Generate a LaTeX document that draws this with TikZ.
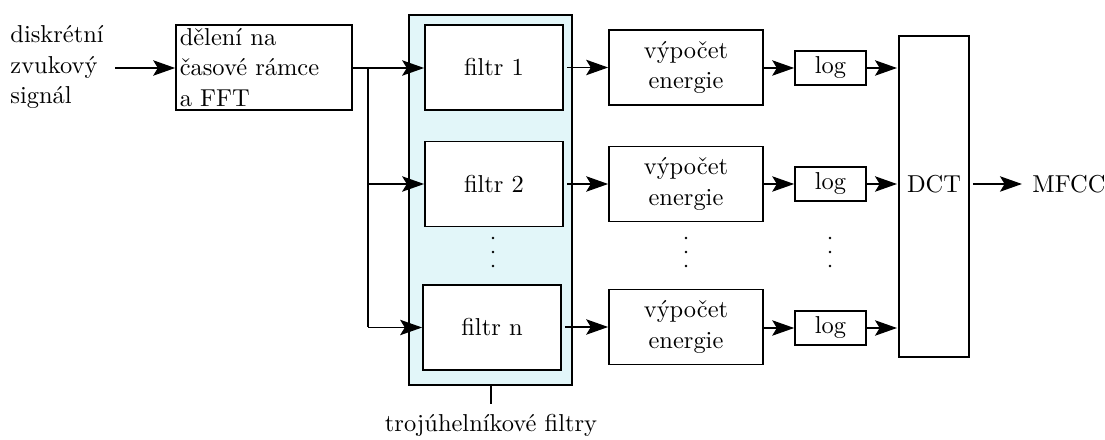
\documentclass[tikz,border=0pt]{standalone}
\usetikzlibrary{arrows.meta}
\definecolor{groupfill}{RGB}{226,246,249}
\begin{document}
\begin{tikzpicture}[x=0.4274pt,y=-0.4274pt,
  font=\fontsize{10.45}{12.9}\selectfont,
  block/.style={draw,line width=0.75pt,fill=white,inner sep=0pt,align=center},
  conn/.style={line width=0.55pt},
  arr/.style={conn,-{Stealth[length=9.4pt,width=6.6pt,inset=2pt]}},
  vdot/.style={fill,circle,inner sep=0pt,minimum size=1.1pt}]
\useasboundingbox (0,0) rectangle (1105,440);

% input signal
\node[anchor=west,align=left,inner sep=0pt] (in) at (10,67)
  {diskrétní\\zvukový\\signál};

% framing and FFT
\node[block,minimum width=75.2pt,minimum height=36.3pt,text width=72pt,align=left] (fft) at (264,67.5)
  {dělení na\\časové rámce\\a FFT};

% triangular filter bank
\node[draw,line width=0.75pt,fill=groupfill,minimum width=69.7pt,minimum height=158.1pt] (bank) at (490.5,200) {};
\node[block,minimum width=59pt,minimum height=36.3pt] (f1) at (494,67.5) {filtr 1};
\node[block,minimum width=59pt,minimum height=36.3pt] (f2) at (494,184) {filtr 2};
\node[block,minimum width=59pt,minimum height=36.3pt] (fn) at (492,327.5) {filtr n};
\foreach \yy [count=\k] in {238,252,266} \node[vdot] (fd\k) at (493,\yy) {};

% energy
\node[block,minimum width=65.8pt,minimum height=32pt] (e1) at (686,67.5) {výpočet\\energie};
\node[block,minimum width=65.8pt,minimum height=32pt] (e2) at (686,184) {výpočet\\energie};
\node[block,minimum width=65.8pt,minimum height=32pt] (en) at (686,327) {výpočet\\energie};
\foreach \yy [count=\k] in {238,252,266} \node[vdot] (ed\k) at (686,\yy) {};

% logarithm
\node[block,minimum width=30.3pt,minimum height=14.5pt] (l1) at (830.5,68) {log};
\node[block,minimum width=30.3pt,minimum height=14.5pt] (l2) at (830.5,184) {log};
\node[block,minimum width=30.3pt,minimum height=14.5pt] (ln) at (830.5,328) {log};
\foreach \yy [count=\k] in {238,252,266} \node[vdot] (ld\k) at (830,\yy) {};

% DCT
\node[block,minimum width=29.9pt,minimum height=137.2pt] (dct) at (934,196.5) {};
\node[inner sep=0pt] (dcttext) at (934,184) {DCT};
\node[anchor=west,inner sep=0pt] (out) at (1032,184) {MFCC};

% connectors
\coordinate (src) at (115,68);
\draw[arr] (src) -- (fft.west |- src);
\coordinate (j1) at (368,68);
\coordinate (j2) at (368,184);
\coordinate (jn) at (368,327.5);
\draw[conn] (fft.east |- j1) -- (j1);
\draw[conn] (j1) -- (jn);
\draw[arr] (j1) -- (f1.west |- j1);
\draw[arr] (j2) -- (f2.west |- j2);
\draw[arr] (jn) -- (fn.west |- jn);

\draw[arr,shorten <=1.3pt] (f1.east) -- (e1.west);
\draw[arr,shorten <=1.3pt] (f2.east) -- (e2.west);
\draw[arr,shorten <=1.3pt] (fn.east |- en.west) -- (en.west);

\draw[arr] (e1.east |- l1.west) -- (l1.west);
\draw[arr] (e2.east |- l2.west) -- (l2.west);
\draw[arr] (en.east |- ln.west) -- (ln.west);

\draw[arr,shorten >=0.5pt] (l1.east) -- (dct.west |- l1.east);
\draw[arr,shorten >=0.5pt] (l2.east) -- (dct.west |- l2.east);
\draw[arr,shorten >=0.5pt] (ln.east) -- (dct.west |- ln.east);

\draw[arr,shorten <=1.3pt,shorten >=4.3pt] (dct.east |- dcttext) -- (out.west);

% bank label
\coordinate (lbl) at (491,404);
\draw[conn] (bank.south -| lbl) -- (lbl);
\node[anchor=north,inner sep=0pt] (banklabel) at (491,414) {trojúhelníkové filtry};
\end{tikzpicture}
\end{document}
